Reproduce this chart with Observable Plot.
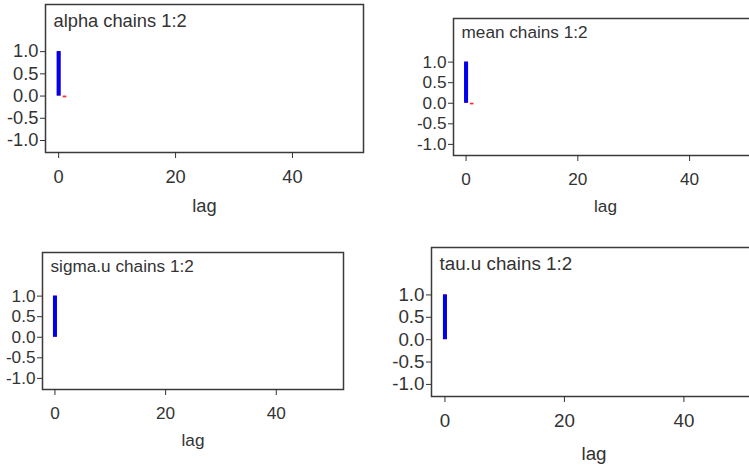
<!DOCTYPE html>
<html>
<head>
<meta charset="utf-8">
<script src="https://cdn.jsdelivr.net/npm/d3@7"></script>
<script src="https://cdn.jsdelivr.net/npm/@observablehq/plot@0.6"></script>
<style>
  html, body { margin: 0; padding: 0; background: #fff; }
  #chart { position: relative; width: 749px; height: 468px; overflow: hidden; background: #fff; }
  #chart > svg { position: absolute; overflow: visible; }
</style>
</head>
<body>
<div id="chart"></div>
<script>
// Autocorrelation at each lag for the monitored nodes, chains 1 and 2.
const lags = [0, 1];

const alphaChain1 = [1.0, 0.0];
const alphaChain2 = [1.0, -0.04];
const meanChain1 = [1.0, 0.0];
const meanChain2 = [1.0, -0.04];
const sigmaChain1 = [1.0, 0.0];
const sigmaChain2 = [1.0, 0.0];
const tauChain1 = [1.0, 0.0];
const tauChain2 = [1.0, 0.0];

const nodeNames = ["alpha", "mean", "sigma.u", "tau.u"];
const chainLabel = "chains 1:2";
const xTicks = [0, 20, 40];
const yTicks = [-1.0, -0.5, 0.0, 0.5, 1.0];
const xLabel = "lag";

const series = [
  [alphaChain1, alphaChain2],
  [meanChain1, meanChain2],
  [sigmaChain1, sigmaChain2],
  [tauChain1, tauChain2]
];

// Where each panel's box sits on the page and how large its text is.
const layout = [
  {left: 45,  top: 4,   w: 318, h: 148, font: 18.3, titleDy: 9.5, labelOffset: 59},
  {left: 453, top: 18,  w: 304, h: 137, font: 17.2, titleDy: 7.5, labelOffset: 56},
  {left: 42,  top: 252, w: 301, h: 137, font: 17.2, titleDy: 7.5, labelOffset: 56},
  {left: 431, top: 247, w: 325, h: 149, font: 18.8, titleDy: 9.5, labelOffset: 63}
];

const ML = 50, MR = 4, MT = 3, MB = 80;
const chart = document.getElementById("chart");

nodeNames.forEach((name, i) => {
  const L = layout[i];
  const [c1, c2] = series[i];
  const rows1 = lags.map((lag, j) => ({lag, acf: c1[j]}));
  const rows2 = lags.map((lag, j) => ({lag, acf: c2[j]}));

  const svg = Plot.plot({
    width: ML + L.w + MR,
    height: MT + L.h + MB,
    marginLeft: ML,
    marginRight: MR,
    marginTop: MT,
    marginBottom: MB,
    style: {
      fontFamily: "'Liberation Sans', Arial, sans-serif",
      fontSize: L.font + "px",
      color: "#333",
      background: "transparent"
    },
    x: {domain: [-2.25, 52.15]},
    y: {domain: [-1.27, 2.06]},
    marks: [
      Plot.frame({stroke: "#3a3a3a", strokeWidth: 1.5}),
      Plot.axisY({ticks: yTicks, tickFormat: d => d.toFixed(1), tickSize: 5, tickPadding: 2, label: null}),
      Plot.axisX({ticks: xTicks, tickFormat: d => String(d), tickSize: 6, tickPadding: 11,
                  label: xLabel, labelArrow: "none", labelAnchor: "center", labelOffset: L.labelOffset}),
      // chain 2 underneath, chain 1 on top
      Plot.ruleX(rows2, {x: "lag", y1: 0, y2: "acf", stroke: "#ff2a2a", strokeWidth: 3.6}),
      Plot.ruleX(rows1, {x: "lag", y1: 0, y2: "acf", stroke: "#0000ee", strokeWidth: 4}),
      Plot.text([`${name} ${chainLabel}`], {
        frameAnchor: "top-left", textAnchor: "start", lineAnchor: "top",
        dx: 8, dy: L.titleDy, fill: "#333", fontSize: L.font
      })
    ]
  });
  svg.style.left = (L.left - ML) + "px";
  svg.style.top = (L.top - MT) + "px";
  chart.appendChild(svg);
});
</script>
</body>
</html>
